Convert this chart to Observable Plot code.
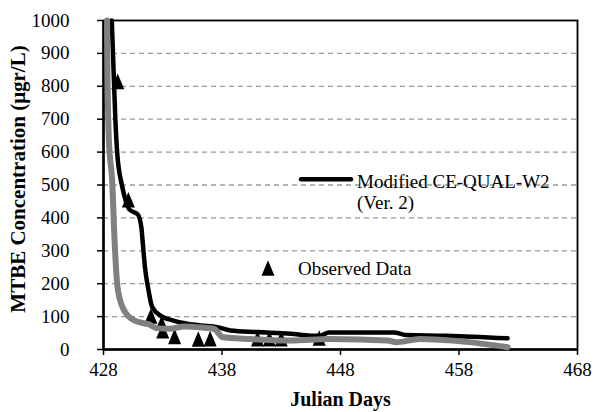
<!DOCTYPE html>
<html><head><meta charset="utf-8">
<script src="https://cdn.jsdelivr.net/npm/d3@7"></script>
<script src="https://cdn.jsdelivr.net/npm/@observablehq/plot@0.6"></script>
<style>body{margin:0;background:#fff}</style>
</head><body><div id="chart"></div>
<script>
const xTicks = [428, 438, 448, 458, 468];
const yTicks = [0, 100, 200, 300, 400, 500, 600, 700, 800, 900, 1000];
const xLabel = "Julian Days";
const yLabel = "MTBE Concentration (μgr/L)";
const legendObs = "Observed Data";
const legendMod = ["Modified CE-QUAL-W2", "(Ver. 2)"];

// Observed Data (triangles)
const obsDay = [429.2, 430.1, 432.0, 432.9, 433.0, 434.0, 436.0, 437.0, 441.0, 442.0, 443.0, 446.2];
const obsVal = [815, 455, 102, 80, 57, 40, 32, 33, 33, 33, 33, 35];

// Modified CE-QUAL-W2 (Ver. 2) - black line
const modDay = [428.7, 428.8, 429.0, 429.15, 429.55, 429.9, 430.2, 430.9, 431.2, 431.3, 431.5, 431.8, 432.1, 432.8, 433.9, 436.2, 437.6, 438.7, 441.0, 443.8, 445.5, 446.3, 447.0, 452.5, 453.5, 457.0, 462.1];
const modVal = [1000, 900, 700, 600, 500, 450, 425, 410, 370, 330, 250, 180, 130, 103, 88, 73, 68, 58, 53, 48, 42, 42, 52, 52, 44, 42, 34];

// Grey model line
const baseDay = [428.3, 428.32, 428.45, 428.75, 428.9, 429.15, 429.4, 429.8, 430.3, 431.0, 431.8, 432.5, 433.6, 434.8, 436.5, 437.3, 438.1, 440.4, 443.8, 447.1, 452.0, 452.7, 454.7, 457.5, 462.1];
const baseVal = [1000, 900, 640, 500, 360, 200, 150, 115, 95, 83, 77, 65, 63, 70, 66, 63, 37, 32, 27, 32, 27, 22, 32, 27, 7];

const obs = obsDay.map((d, i) => ({day: d, val: obsVal[i]}));
const mod = modDay.map((d, i) => ({day: d, val: modVal[i]}));
const base = baseDay.map((d, i) => ({day: d, val: baseVal[i]}));

const tri = {draw(ctx) { ctx.moveTo(0, -7.8); ctx.lineTo(6.5, 7.8); ctx.lineTo(-6.5, 7.8); ctx.closePath(); }};
const font = "'Liberation Serif', 'Times New Roman', serif";

const chart = Plot.plot({
  width: 594, height: 412,
  marginLeft: 103, marginRight: 17, marginTop: 20, marginBottom: 63,
  style: {fontFamily: font, fontSize: "19px", color: "#000", background: "#fff", overflow: "visible"},
  x: {domain: [428, 468]},
  y: {domain: [0, 1000]},
  marks: [
    Plot.gridY(yTicks.filter(v => v > 0 && v < 1000), {stroke: "#999", strokeOpacity: 1, strokeWidth: 1.3, strokeDasharray: "5,4"}),
    Plot.frame({stroke: "#000", strokeWidth: 1.8}),
    Plot.ruleX([428], {stroke: "#000", strokeWidth: 2.5}),
    Plot.ruleY([0], {stroke: "#000", strokeWidth: 2.5}),
    Plot.axisX({ticks: xTicks, tickFormat: d => String(d), tickSize: 6, tickPadding: 7, strokeWidth: 1.5, label: null, fontSize: 19}),
    Plot.axisY({ticks: yTicks, tickFormat: () => "", tickSize: 6, strokeWidth: 1.5, label: null}),
    Plot.axisY({ticks: yTicks, tickFormat: d => String(d), tickSize: 6, tickPadding: 14, stroke: "none", label: null, fontSize: 19, dx: -14}),
    Plot.dot(obs, {x: "day", y: "val", symbol: tri, fill: "#000", stroke: "none"}),
    Plot.line(mod, {x: "day", y: "val", stroke: "#000", strokeWidth: 4.5, curve: "monotone-x"}),
    Plot.line(base, {x: "day", y: "val", stroke: "#808080", strokeWidth: 6, curve: "monotone-x"}),
    Plot.text([xLabel], {frameAnchor: "bottom", dy: 50, text: d => d, fontWeight: "bold", fontSize: 20, lineAnchor: "middle", textAnchor: "middle"}),
    Plot.text([yLabel], {frameAnchor: "left", dx: -85, dy: -6, rotate: -90, text: d => d, fontWeight: "bold", fontSize: 21, lineAnchor: "middle", textAnchor: "middle"})
  ]
});
document.getElementById("chart").appendChild(chart);

// Legend
const svg = d3.select(chart);
const lg = svg.append("g").attr("font-family", font).attr("font-size", 19).attr("fill", "#000").attr("text-anchor", "start");
lg.append("path").attr("d", "M268,260.2L274.5,275.8L261.5,275.8Z").attr("fill", "#000");
lg.append("text").attr("x", 298).attr("y", 275).text(legendObs);
lg.append("line").attr("x1", 301).attr("x2", 351).attr("y1", 179.3).attr("y2", 179.3)
  .attr("stroke", "#000").attr("stroke-width", 4.5).attr("stroke-linecap", "round");
lg.append("text").attr("x", 357).attr("y", 188).text(legendMod[0]);
lg.append("text").attr("x", 357).attr("y", 209).text(legendMod[1]);
</script>
</body></html>
